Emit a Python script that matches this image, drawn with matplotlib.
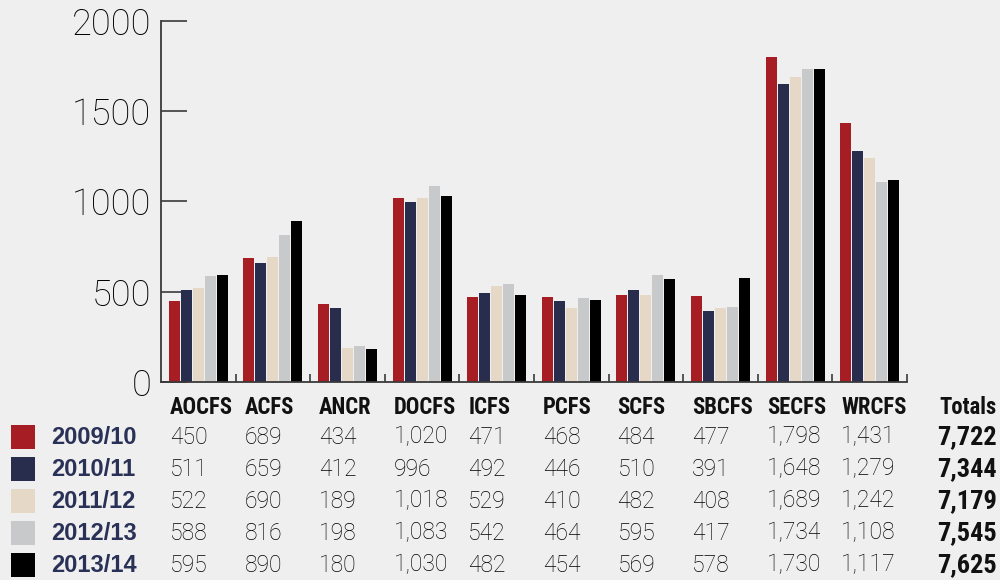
import matplotlib
matplotlib.use("Agg")
import matplotlib.pyplot as plt
import matplotlib.transforms as mtransforms
from matplotlib.patches import Rectangle
from matplotlib import font_manager
import numpy as np

categories = ["AOCFS", "ACFS", "ANCR", "DOCFS", "ICFS", "PCFS", "SCFS", "SBCFS", "SECFS", "WRCFS"]
years = ["2009/10", "2010/11", "2011/12", "2012/13", "2013/14"]
v2009 = [450, 689, 434, 1020, 471, 468, 484, 477, 1798, 1431]
v2010 = [511, 659, 412, 996, 492, 446, 510, 391, 1648, 1279]
v2011 = [522, 690, 189, 1018, 529, 410, 482, 408, 1689, 1242]
v2012 = [588, 816, 198, 1083, 542, 464, 595, 417, 1734, 1108]
v2013 = [595, 890, 180, 1030, 482, 454, 569, 578, 1730, 1117]
totals = [7722, 7344, 7179, 7545, 7625]
series = [v2009, v2010, v2011, v2012, v2013]
colors = ["#a61e24", "#282d4e", "#e6d8c6", "#c8c9cb", "#000000"]
yticks = [0, 500, 1000, 1500, 2000]

# pick a condensed bold font if available
names = {f.name for f in font_manager.fontManager.ttflist}
cond = None
for cand in ["Liberation Sans Narrow", "DejaVu Sans Condensed", "Roboto Condensed",
             "Open Sans Condensed"]:
    if cand in names:
        cond = cand
        break
if cond is None:
    cond_kw = dict(fontfamily="DejaVu Sans", fontstretch="condensed", fontweight="bold")
    head_size, tot_size = 16.3, 19
else:
    cond_kw = dict(fontfamily=cond, fontweight="bold")
    if cond == "Liberation Sans Narrow":
        head_size, tot_size = 15.5, 17
    else:
        head_size, tot_size = 16.3, 19

BG = "#efefef"
fig = plt.figure(figsize=(10, 5.8), dpi=100, facecolor=BG)
ax = fig.add_axes([0.161, 0.3414, 0.746, 0.6229])
ax.set_facecolor("none")

x = np.arange(len(categories))
pitch = 0.161
bw = 0.148
for i, (vals, c) in enumerate(zip(series, colors)):
    ax.bar(x + (i - 2) * pitch, vals, width=bw, color=c, edgecolor="none", zorder=2)

ax.set_xlim(-0.5, len(categories) - 0.5)
ax.set_ylim(0, 2000)
for s in ["top", "right"]:
    ax.spines[s].set_visible(False)
for s in ["left", "bottom"]:
    ax.spines[s].set_color("#3a3a3a")
    ax.spines[s].set_linewidth(1.3)

ax.set_yticks(yticks)
ax.set_yticklabels([str(t) for t in yticks], fontsize=26, fontfamily="Roboto",
                   fontweight="light", color="#000000")
ax.tick_params(axis="y", direction="in", length=19, width=1.2, color="#3a3a3a", pad=7)
ax.set_xticks(np.arange(1, len(categories) + 1) - 0.5)
ax.set_xticklabels([])
ax.tick_params(axis="x", direction="in", length=6, width=1.2, color="#3a3a3a")

# Table below the chart
trans = mtransforms.blended_transform_factory(ax.transData, fig.transFigure)
def fy(py):
    return 1 - py / 580.0

col_off = 0.12
header_y = fy(408)
for j, cat in enumerate(categories):
    fig.text(j - 0.5 + col_off, header_y, cat, transform=trans, ha="left", va="center",
             fontsize=head_size, color="#111111", **cond_kw)
fig.text(0.997, header_y, "Totals", ha="right", va="center",
         fontsize=head_size, color="#111111", **cond_kw)

row_ys = [437, 469, 501, 533, 565]
for r, (yr, vals, c, tot) in enumerate(zip(years, series, colors, totals)):
    yy = fy(row_ys[r])
    fig.patches.append(Rectangle((0.011, yy - 12 / 580), 0.024, 24 / 580,
                                 transform=fig.transFigure, facecolor=c, edgecolor="none"))
    fig.text(0.051, yy, yr, ha="left", va="center", fontsize=17,
             fontfamily="Liberation Sans", fontweight="bold", color="#2a3157")
    for j, v in enumerate(vals):
        fig.text(j - 0.5 + col_off, yy, f"{v:,}", transform=trans, ha="left", va="center",
                 fontsize=16.5, fontfamily="Roboto", fontweight="light", color="#000000")
    fig.text(0.997, yy, f"{tot:,}", ha="right", va="center", fontsize=tot_size,
             color="#111111", **cond_kw)

fig.savefig("out.png", dpi=100, facecolor=BG)
